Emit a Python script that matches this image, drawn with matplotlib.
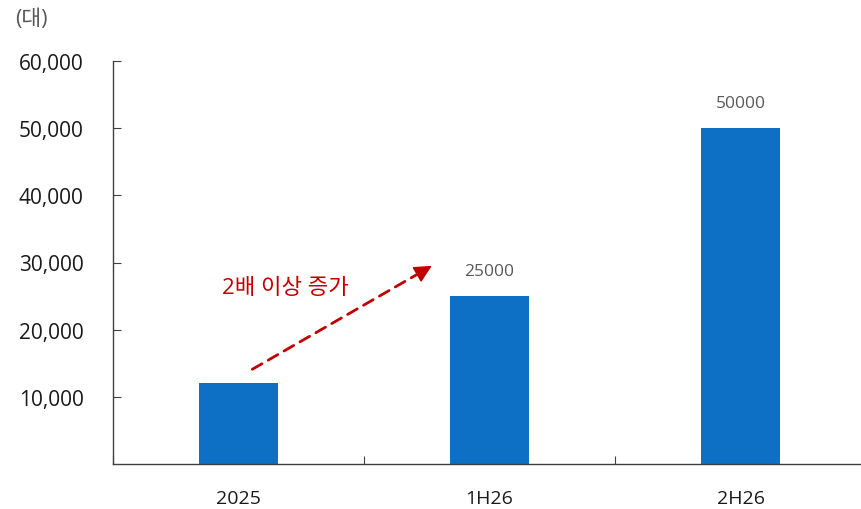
import matplotlib.pyplot as plt

plt.rcParams['font.family'] = ['Open Sans', 'Noto Sans CJK KR', 'DejaVu Sans']

# 출하량 (대)
periods = ['2025', '1H26', '2H26']
units = [12000, 25000, 50000]
shown_labels = [None, 25000, 50000]
y_ticks = [10000, 20000, 30000, 40000, 50000, 60000]

fig = plt.figure(figsize=(8.61, 5.10), dpi=100)
ax = fig.add_axes([113 / 861, 45 / 510, 753 / 861, 403 / 510])

centers = [i + 0.5 for i in range(len(periods))]
ax.bar(centers, units, width=0.315, color='#0D70C4')

for x, v in zip(centers, shown_labels):
    if v is not None:
        ax.text(x, v + 2600, str(v), ha='center', va='bottom',
                fontsize=12.5, color='#595959')

# 증가 화살표: 점선 몸통 + 채워진 머리
start = (0.555, 14100)
tip = (1.27, 29500)
neck = (1.215, 28300)
ax.annotate('', xy=neck, xytext=start,
            arrowprops=dict(arrowstyle='-', color='#C00000', lw=2.0,
                            linestyle=(0, (4, 2.6)), shrinkA=0, shrinkB=0))
ax.annotate('', xy=tip, xytext=neck,
            arrowprops=dict(arrowstyle='-|>,head_length=1.1,head_width=0.55',
                            color='#C00000', lw=1.0, shrinkA=0, shrinkB=0))
ax.text(0.685, 26300, '2배 이상 증가', ha='center', va='center',
        fontsize=16, color='#C00000')

ax.set_xlim(0, 3)
ax.set_ylim(0, 60000)
ax.set_yticks(y_ticks)
ax.set_yticklabels([f'{t:,}' for t in y_ticks], fontsize=15, color='#1a1a1a')
ax.tick_params(axis='y', direction='in', length=6, pad=21, color='#404040')

ax.set_xticks([0, 1, 2, 3])
ax.set_xticklabels([])
ax.tick_params(axis='x', which='major', direction='in', length=6, color='#404040')
ax.set_xticks(centers, minor=True)
ax.set_xticklabels(periods, minor=True, fontsize=14, color='#1a1a1a')
ax.tick_params(axis='x', which='minor', length=0, pad=18)

for s in ['top', 'right']:
    ax.spines[s].set_visible(False)
for s in ['left', 'bottom']:
    ax.spines[s].set_color('#404040')
    ax.spines[s].set_linewidth(1.0)

fig.text(15 / 861, 1 - 20 / 510, '(대)', fontsize=15.5, color='#595959',
         ha='left', va='center')

fig.savefig('out.png', dpi=100)
